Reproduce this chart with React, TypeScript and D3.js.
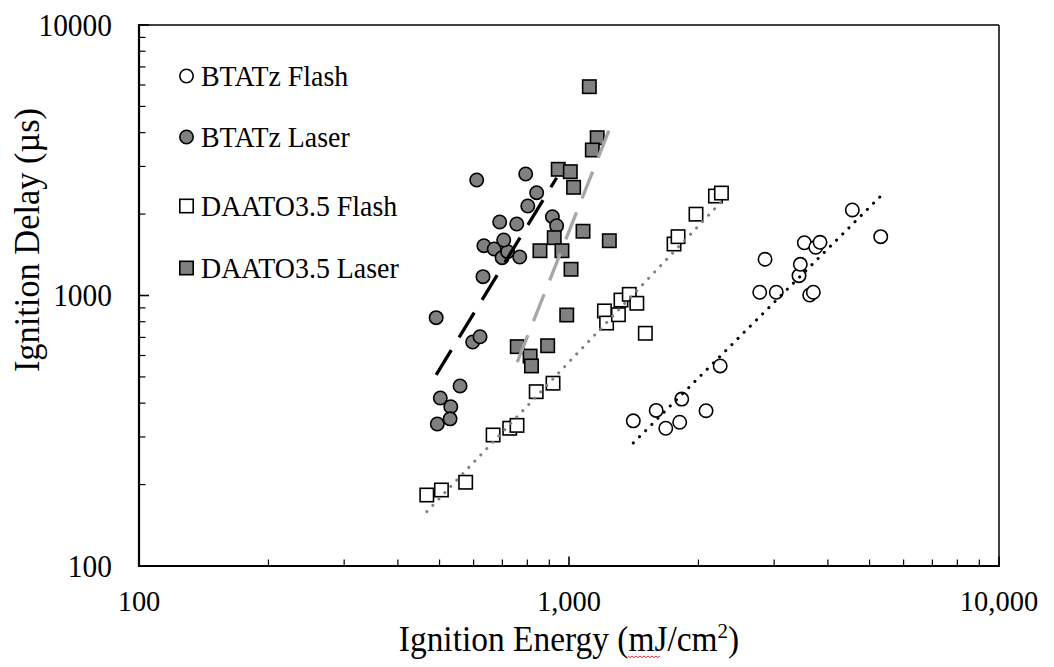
import React from 'react';
import * as d3 from 'd3';

// ---------- data ----------
const seriesNames = ['BTATz Flash', 'BTATz Laser', 'DAATO3.5 Flash', 'DAATO3.5 Laser'];

const btatzFlashX = [1411, 1595, 1679, 1809, 1829, 2083, 2247, 2777, 2857, 3034, 3427, 3451, 3526, 3629, 3700, 3748, 3835, 4559, 5308];
const btatzFlashY = [344, 376, 323, 340, 414, 375, 549, 1028, 1361, 1028, 1184, 1304, 1567, 1004, 1028, 1508, 1573, 2071, 1650];

const btatzLaserX = [491, 502, 494, 531, 529, 558, 597, 621, 631, 634, 670, 699, 720, 768, 705, 690, 756, 610, 793, 841, 802, 915, 936];
const btatzLaserY = [828, 418, 335, 388, 350, 463, 673, 704, 1174, 1528, 1486, 1380, 1452, 1388, 1604, 1870, 1838, 2673, 2813, 2399, 2142, 1956, 1811];

const daatoFlashX = [467, 505, 575, 666, 728, 757, 839, 918, 1209, 1223, 1303, 1321, 1381, 1438, 1505, 1755, 1793, 1974, 2191, 2262];
const daatoFlashY = [183, 191, 204, 305, 323, 331, 441, 474, 877, 791, 849, 962, 1010, 936, 725, 1550, 1650, 1998, 2332, 2392];

const daatoLaserX = [1115, 1163, 1133, 944, 1007, 1025, 1078, 1241, 924, 856, 963, 1011, 988, 758, 892, 812, 818];
const daatoLaserY = [5915, 3831, 3451, 2928, 2869, 2512, 1728, 1594, 1636, 1464, 1464, 1250, 847, 647, 652, 597, 549];

// power-law trendlines  y = 10^logA * x^b
const trendLogA = [-2.540, -4.296, -2.262, -8.814];
const trendB = [1.586, 2.602, 1.672, 4.017];

const xTickValues = [100, 1000, 10000];
const xTickLabels = ['100', '1,000', '10,000'];
const yTickValues = [100, 1000, 10000];
const yTickLabels = ['100', '1000', '10000'];

// ---------- layout ----------
const W = 1054, H = 667;
const L = 139, R = 999, T = 25, B = 566;
const FONT = '"Liberation Serif", "Times New Roman", serif';
const GRAY = '#808080';
const legendRowY = [76, 137, 206, 268];

export default function App() {
  const x = d3.scaleLog().domain([100, 10000]).range([L, R]);
  const y = d3.scaleLog().domain([100, 10000]).range([B, T]);

  const seriesX = [btatzFlashX, btatzLaserX, daatoFlashX, daatoLaserX];
  const seriesY = [btatzFlashY, btatzLaserY, daatoFlashY, daatoLaserY];
  const fills = ['#ffffff', GRAY, '#ffffff', GRAY];
  const shapes = ['circle', 'circle', 'square', 'square'];

  const trendStyles = [
    { stroke: '#000000', width: 3, dash: '0.1 8.6', cap: 'round' },
    { stroke: '#000000', width: 3.3, dash: '29 15', cap: 'butt' },
    { stroke: GRAY, width: 3, dash: '0.1 8.6', cap: 'round' },
    { stroke: '#a6a6a6', width: 3.3, dash: '29 15', cap: 'butt' },
  ];

  const minorTicks: number[] = [];
  [100, 1000].forEach((d) => {
    for (let k = 2; k <= 9; k++) minorTicks.push(d * k);
  });

  const marker = (shape: string, cx: number, cy: number, fill: string, key: string) =>
    shape === 'circle' ? (
      <circle key={key} cx={cx} cy={cy} r={6.7} fill={fill} stroke="#000" strokeWidth={1.6} />
    ) : (
      <rect key={key} x={cx - 6.7} y={cy - 6.7} width={13.4} height={13.4} fill={fill} stroke="#000" strokeWidth={1.6} />
    );

  const line = d3.line<[number, number]>().x((d) => x(d[0])).y((d) => y(d[1]));

  // red spell-check squiggle under "mJ"
  const squiggle: [number, number][] = [];
  for (let i = 0; i <= 16; i++) squiggle.push([628 + i * 2, 656 + (i % 2 === 0 ? 0 : 1.6)]);

  return (
    <svg width={W} height={H} style={{ position: 'absolute', left: 0, top: 0, background: '#fff' }} fontFamily={FONT}>
      <rect x={0} y={0} width={W} height={H} fill="#fff" />
      {/* frame */}
      <line x1={L} y1={T} x2={R} y2={T} stroke="#000" strokeWidth={1.5} />
      <line x1={R} y1={T} x2={R} y2={B} stroke="#000" strokeWidth={1.5} />
      {/* minor ticks */}
      {minorTicks.map((v) => (
        <line key={'xm' + v} x1={x(v)} x2={x(v)} y1={B} y2={B - 6.5} stroke="#000" strokeWidth={1.2} />
      ))}
      {minorTicks.map((v) => (
        <line key={'ym' + v} x1={L} x2={L + 6.5} y1={y(v)} y2={y(v)} stroke="#000" strokeWidth={1.2} />
      ))}
      {xTickValues.map((v) => (
        <line key={'xM' + v} x1={x(v)} x2={x(v)} y1={B} y2={B - 9.5} stroke="#000" strokeWidth={1.6} />
      ))}
      {yTickValues.map((v) => (
        <line key={'yM' + v} x1={L} x2={L + 10} y1={y(v)} y2={y(v)} stroke="#000" strokeWidth={1.6} />
      ))}
      <line x1={L} y1={T - 1} x2={L} y2={B + 1} stroke="#000" strokeWidth={2.2} />
      <line x1={L - 1} y1={B} x2={R + 1} y2={B} stroke="#000" strokeWidth={2.2} />

      {/* markers */}
      {seriesX.map((xs, s) =>
        xs.map((xv, i) => marker(shapes[s], x(xv), y(seriesY[s][i]), fills[s], `m${s}-${i}`))
      )}

      {/* trendlines */}
      {seriesX.map((xs, s) => {
        const x0 = d3.min(xs) as number;
        const x1 = d3.max(xs) as number;
        const f = (xv: number) => Math.pow(10, trendLogA[s]) * Math.pow(xv, trendB[s]);
        const st = trendStyles[s];
        return (
          <path
            key={'t' + s}
            d={line([[x0, f(x0)], [x1, f(x1)]]) as string}
            fill="none"
            stroke={st.stroke}
            strokeWidth={st.width}
            strokeDasharray={st.dash}
            strokeLinecap={st.cap as any}
          />
        );
      })}

      {/* tick labels */}
      {xTickValues.map((v, i) => (
        <text key={'xl' + v} transform={`translate(${x(v)},${B + 45}) scale(0.95,1)`} textAnchor="middle" fontSize={30}>
          {xTickLabels[i]}
        </text>
      ))}
      {yTickValues.map((v, i) => (
        <text key={'yl' + v} transform={`translate(${L - 27},${y(v) + 10.5}) scale(0.95,1)`} textAnchor="end" fontSize={31}>
          {yTickLabels[i]}
        </text>
      ))}

      {/* axis titles */}
      <text transform={`translate(${(L + R) / 2},651) scale(0.955,1)`} textAnchor="middle" fontSize={35}>
        Ignition Energy (mJ/cm<tspan dy={-13} fontSize={22}>2</tspan>
        <tspan dy={13}>)</tspan>
      </text>
      <path d={d3.line()(squiggle) as string} fill="none" stroke="#e03030" strokeWidth={1} />
      <text transform={`translate(39,240) rotate(-90) scale(0.955,1)`} textAnchor="middle" fontSize={36}>
        Ignition Delay (µs)
      </text>

      {/* legend */}
      {seriesNames.map((name, s) => {
        const cy = legendRowY[s];
        return (
          <g key={'lg' + s}>
            {marker(shapes[s], 186.5, cy, fills[s], 'lm' + s)}
            <text transform={`translate(201,${cy + 10}) scale(0.93,1)`} fontSize={30}>
              {name}
            </text>
          </g>
        );
      })}
    </svg>
  );
}
